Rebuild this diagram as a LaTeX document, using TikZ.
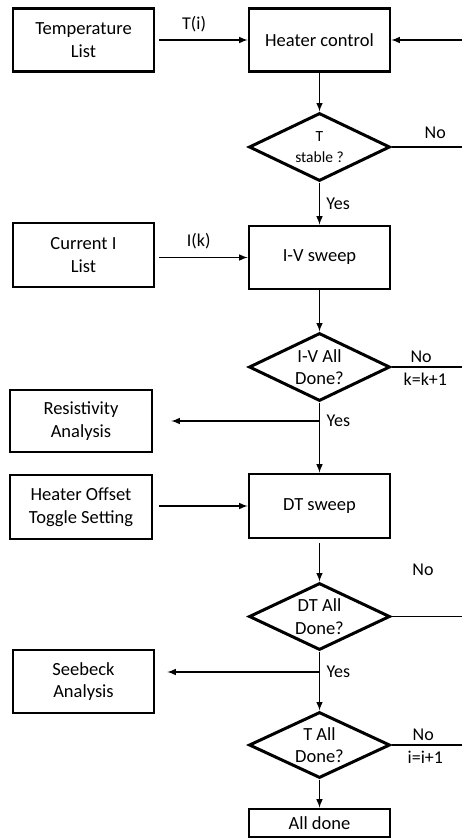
\documentclass[tikz,border=0pt]{standalone}
\usepackage{fontspec}
\setmainfont{Carlito}
\usepackage{tikz}
\usetikzlibrary{arrows,shapes.geometric}

\tikzset{
    stepbox/.style    = {draw, line width=2.6pt, minimum width=141pt, minimum height=63pt,
                         inner sep=0pt, align=center, font=\fontsize{18.5}{22.5}\selectfont},
    testbox/.style    = {draw, diamond, line width=3pt, minimum width=141pt, minimum height=68pt,
                         aspect=2, inner sep=0pt, align=center, font=\fontsize{18.5}{22.5}\selectfont},
    flow/.style       = {line width=1.9pt, -latex},
    flowlabel/.style  = {font=\fontsize{18}{22}\selectfont, inner sep=0pt}
}

\begin{document}
\begin{tikzpicture}[x=1pt, y=-1pt]
            % Frame to ensure alignment:
            \useasboundingbox                                          (  0.0,   0.0) rectangle (462.0, 839.0);

            % Main column:
            \node[stepbox]                              (heater)   at (319.5,  40.0) {Heater control};
            \node[testbox, font=\fontsize{15.5}{21}\selectfont] (tstable) at (319.5, 147.0) {T\\stable ?};
            \node[stepbox]                              (ivsweep)  at (319.5, 257.5) {I-V sweep};
            \node[testbox]                              (ivdone)   at (319.5, 367.0) {I-V All\\Done?};
            \node[stepbox, minimum height=64pt]         (dtsweep)  at (319.5, 506.0) {DT sweep};
            \node[testbox, minimum height=67pt]         (dtdone)   at (319.5, 616.5) {DT All\\Done?};
            \node[testbox, minimum height=66pt]         (tdone)    at (319.5, 745.0) {T All\\Done?};
            \node[stepbox, minimum height=28pt]         (alldone)  at (319.5, 823.0) {All done};

            % Side column:
            \node[stepbox]                              (templist) at ( 83.5,  40.0) {Temperature\\List};
            \node[stepbox, minimum height=64pt]         (curlist)  at ( 83.5, 255.0) {Current I\\List};
            \node[stepbox, minimum width=142pt, minimum height=62pt] (resist) at ( 81.0, 421.0) {Resistivity\\Analysis};
            \node[stepbox, minimum width=142pt, minimum height=64pt] (offset) at ( 81.0, 507.0) {Heater Offset\\Toggle Setting};
            \node[stepbox]                              (seebeck)  at ( 83.5, 681.5) {Seebeck\\Analysis};

            % Loop ends at the right edge and branch points:
            \coordinate                                 (back)     at (462.0,  40.0);
            \coordinate                                 (nostable) at (462.0, 147.0);
            \coordinate                                 (noiv)     at (462.0, 367.0);
            \coordinate                                 (nodt)     at (462.0, 616.5);
            \coordinate                                 (not)      at (462.0, 745.0);
            \coordinate                                 (ivyes)    at (319.5, 421.0);
            \coordinate                                 (dtyes)    at (319.5, 672.0);

            % Connectors:
            \draw[flow, shorten <=4pt]  (templist.east) -- (heater.west)
                 node[flowlabel, pos=0.42, above=7pt] {T(i)};
            \draw[flow]                 (back) -- (heater.east);
            \draw[flow]                 (heater.south) -- (tstable.north);
            \draw[line width=1.9pt]     (tstable.east) -- (nostable)
                 node[flowlabel, pos=0.62, above=7pt] {No};
            \draw[flow]                 (tstable.south) -- (ivsweep.north)
                 node[flowlabel, pos=0.5, right=6pt] {Yes};

            \draw[flow, shorten <=4pt]  (curlist.east |- ivsweep.west) -- (ivsweep.west)
                 node[flowlabel, pos=0.47, above=8pt] {I(k)};
            \draw[flow]                 (ivsweep.south) -- (ivdone.north);
            \draw[line width=1.9pt]     (ivdone.east) -- (noiv)
                 node[flowlabel, pos=0.42, above=3pt] {No}
                 node[flowlabel, pos=0.48, below=5pt] {k=k+1};
            \draw[flow]                 (ivdone.south) -- (dtsweep.north);
            \draw[flow, shorten >=18pt] (ivyes) -- (resist.east |- ivyes);
            \node[flowlabel, right=7pt] (ivyeslbl) at (ivyes) {Yes};

            \draw[flow, shorten <=6pt]  (offset.east |- dtsweep.west) -- (dtsweep.west);
            \draw[flow, shorten <=4pt]  (dtsweep.south) -- (dtdone.north);
            \draw[line width=1.9pt]     (dtdone.east) -- (nodt);
            \node[flowlabel]            (dtnolbl)  at (423.0, 570.0) {No};
            \draw[flow]                 (dtdone.south) -- (tdone.north);
            \draw[flow, shorten >=12pt] (dtyes) -- (seebeck.east |- dtyes);
            \node[flowlabel, right=7pt] (dtyeslbl) at (dtyes) {Yes};

            \draw[line width=1.9pt]     (tdone.east) -- (not)
                 node[flowlabel, pos=0.45, above=3pt] {No}
                 node[flowlabel, pos=0.48, below=5pt] {i=i+1};
            \draw[flow]                 (tdone.south) -- (alldone.north);
        \end{tikzpicture}
\end{document}
